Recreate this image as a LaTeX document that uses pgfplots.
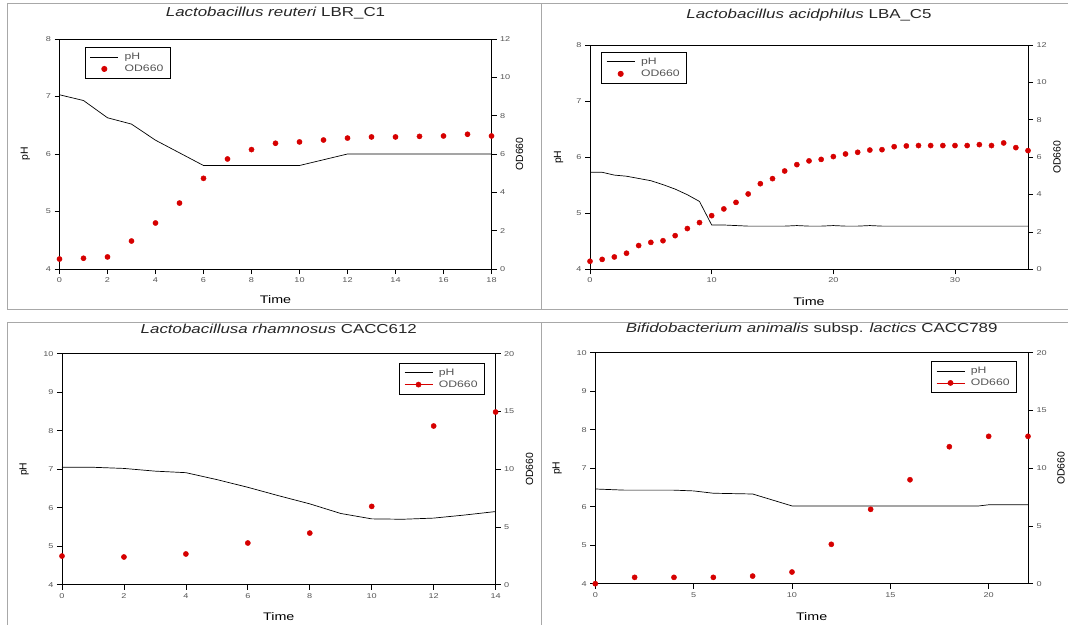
\documentclass[border=0pt]{standalone}
\usepackage{fontspec}
\setmainfont{Liberation Sans}[FakeStretch=1.3]
\newfontfamily\rotfont{Liberation Sans}
\usepackage{pgfplots}
\pgfplotsset{compat=1.18}

\definecolor{odred}{RGB}{214,0,0}
\definecolor{labgray}{RGB}{85,85,85}
\definecolor{framegray}{RGB}{168,168,168}

\pgfplotsset{
  base/.style={
    scale only axis, clip=false, anchor=south west,
    axis line style={black, line width=0.9pt},
    tick style={black, line width=0.7pt},
    major tick length=5pt, tick align=outside,
    ticklabel style={font=\fontsize{7}{8}\selectfont, text=labgray},
    /pgf/number format/assume math mode=true,
    every axis title/.style={at={(axis description cs:0.5,1)}, anchor=center,
      font=\fontsize{13}{15}\selectfont, text=black!85},
    every axis x label/.style={at={(axis description cs:0.5,0)}, anchor=center,
      font=\fontsize{11}{13}\selectfont},
    every axis y label/.style={at={(axis description cs:0,0.5)}, anchor=center,
      rotate=90, font=\rotfont\fontsize{10.4}{12}\selectfont},
  },
  left/.style={base, xtick pos=bottom, ytick pos=left,
    legend style={draw=black, line width=0.8pt, font=\fontsize{9.4}{11}\selectfont,
      text=labgray, inner xsep=5pt, inner ysep=3.5pt, column sep=4pt,
      cells={anchor=west}},
    legend image code/.code={\draw[##1] (0pt,0pt) -- (28pt,0pt);},
  },
  right/.style={base, hide x axis, axis y line*=right},
  odm/.style={only marks, mark=*, mark size=2.6pt, mark options={draw=odred, fill=odred}},
  odml/.style={odred, line width=0.5pt, mark=*, mark size=2.6pt, mark options={fill=odred}},
  odleg/.style={legend image code/.code={\draw[mark repeat=2, mark phase=2, ##1]
    plot coordinates {(0pt,0pt) (14pt,0pt) (28pt,0pt)};}},
  phl/.style={black, line width=0.7pt},
}

\begin{document}
\begin{tikzpicture}
\useasboundingbox (0pt,0pt) rectangle (1068pt,625pt);
% panel frames
\draw[framegray, line width=1pt]
  (7pt,621pt) -- (1068pt,621pt)
  (7pt,316pt) -- (1068pt,316pt)
  (7pt,303pt) -- (1068pt,303pt)
  (7pt,621pt) -- (7pt,316pt)
  (541pt,621pt) -- (541pt,316pt)
  (7pt,303pt) -- (7pt,0pt)
  (541pt,303pt) -- (541pt,0pt);

% ---------- Panel 1: L. reuteri ----------
\begin{axis}[left, at={(59.5pt,356pt)}, width=432pt, height=230pt,
  xmin=0, xmax=18, xtick={0,2,...,18}, ymin=4, ymax=8, ytick={4,...,8},
  title={\textit{Lactobacillus reuteri} LBR\_C1}, title style={yshift=25.7pt},
  xlabel={Time}, xlabel style={yshift=-31pt},
  ylabel={pH}, ylabel style={at={(axis description cs:-0.0787,0.5)}},
  legend style={at={(axis description cs:0.058,0.965)}, anchor=north west}]
\addplot[phl] coordinates {
  (0,7.03) (1,6.93) (2,6.63) (3,6.52) (4,6.24) (5,6.02) (6,5.80) (7,5.80)
  (8,5.80) (9,5.80) (10,5.80) (11,5.90) (12,6.00) (13,6.00) (14,6.00)
  (15,6.00) (16,6.00) (17,6.00) (18,6.00)};
\addlegendentry{pH}
\addlegendimage{odm, odleg}
\addlegendentry{OD660}
\end{axis}
\begin{axis}[right, at={(59.5pt,356pt)}, width=432pt, height=230pt,
  xmin=0, xmax=18, ymin=0, ymax=12, ytick={0,2,...,12},
  ylabel={OD660}, ylabel style={at={(axis description cs:1.0648,0.5)}}]
\addplot[odm] coordinates {
  (0,0.52) (1,0.56) (2,0.63) (3,1.46) (4,2.40) (5,3.44) (6,4.73) (7,5.74)
  (8,6.23) (9,6.56) (10,6.63) (11,6.73) (12,6.83) (13,6.89) (14,6.89)
  (15,6.92) (16,6.94) (17,7.03) (18,6.94)};
\end{axis}

% ---------- Panel 2: L. acidphilus ----------
\begin{axis}[left, at={(590pt,355.7pt)}, width=438pt, height=224.3pt,
  xmin=0, xmax=36, xtick={0,10,20,30}, ymin=4, ymax=8, ytick={4,...,8},
  title={\textit{Lactobacillus acidphilus} LBA\_C5}, title style={yshift=30pt},
  xlabel={Time}, xlabel style={yshift=-32pt},
  ylabel={pH}, ylabel style={at={(axis description cs:-0.0719,0.5)}},
  legend style={at={(axis description cs:0.025,0.969)}, anchor=north west}]
\addplot[phl] coordinates {
  (0,5.73) (1,5.73) (2,5.68) (3,5.66) (4,5.62) (5,5.58) (6,5.51) (7,5.43)
  (8,5.33) (9,5.21) (10,4.79) (11,4.79) (12,4.78) (13,4.77) (14,4.77)
  (15,4.77) (16,4.77) (17,4.78) (18,4.77) (19,4.77) (20,4.78) (21,4.77)
  (22,4.77) (23,4.78) (24,4.77) (25,4.77) (26,4.77) (27,4.77) (28,4.77)
  (29,4.77) (30,4.77) (31,4.77) (32,4.77) (33,4.77) (34,4.77) (35,4.77) (36,4.77)};
\addlegendentry{pH}
\addlegendimage{odm, odleg}
\addlegendentry{OD660}
\end{axis}
\begin{axis}[right, at={(590pt,355.7pt)}, width=438pt, height=224.3pt,
  xmin=0, xmax=36, ymin=0, ymax=12, ytick={0,2,...,12},
  ylabel={OD660}, ylabel style={at={(axis description cs:1.0662,0.5)}}]
\addplot[odm] coordinates {
  (0,0.43) (1,0.53) (2,0.66) (3,0.86) (4,1.27) (5,1.44) (6,1.53) (7,1.80)
  (8,2.18) (9,2.50) (10,2.87) (11,3.23) (12,3.58) (13,4.03) (14,4.58)
  (15,4.85) (16,5.26) (17,5.60) (18,5.80) (19,5.88) (20,6.03) (21,6.17)
  (22,6.26) (23,6.38) (24,6.40) (25,6.56) (26,6.60) (27,6.62) (28,6.62)
  (29,6.62) (30,6.62) (31,6.62) (32,6.67) (33,6.62) (34,6.76) (35,6.51) (36,6.35)};
\end{axis}

% ---------- Panel 3: L. rhamnosus ----------
\begin{axis}[left, at={(62pt,40.3pt)}, width=433.6pt, height=231pt,
  xmin=0, xmax=14, xtick={0,2,...,14}, ymin=4, ymax=10, ytick={4,...,10},
  title={\textit{Lactobacillusa rhamnosus} CACC612}, title style={yshift=24.4pt},
  xlabel={Time}, xlabel style={yshift=-32.3pt},
  ylabel={pH}, ylabel style={at={(axis description cs:-0.0876,0.5)}},
  legend style={at={(axis description cs:0.9755,0.961)}, anchor=north east}]
\addplot[phl] coordinates {
  (0,7.05) (1,7.05) (2,7.02) (3,6.95) (4,6.91) (5,6.73) (6,6.53) (7,6.31)
  (8,6.10) (9,5.85) (10,5.71) (11,5.70) (12,5.73) (13,5.81) (14,5.90)};
\addlegendentry{pH}
\addlegendimage{odml, odleg}
\addlegendentry{OD660}
\end{axis}
\begin{axis}[right, at={(62pt,40.3pt)}, width=433.6pt, height=231pt,
  xmin=0, xmax=14, ymin=0, ymax=20, ytick={0,5,...,20},
  ylabel={OD660}, ylabel style={at={(axis description cs:1.0784,0.5)}}]
\addplot[odm] coordinates {
  (0,2.48) (2,2.40) (4,2.66) (6,3.61) (8,4.47) (10,6.78) (12,13.74) (14,14.95)};
\end{axis}

% ---------- Panel 4: B. animalis ----------
\begin{axis}[left, at={(595.3pt,41.3pt)}, width=432.7pt, height=231pt,
  xmin=0, xmax=22, xtick={0,5,...,20}, ymin=4, ymax=10, ytick={4,...,10},
  title={\textit{Bifidobacterium animalis} subsp. \textit{lactics} CACC789}, title style={yshift=24pt},
  xlabel={Time}, xlabel style={yshift=-33.3pt},
  ylabel={pH}, ylabel style={at={(axis description cs:-0.0885,0.5)}},
  legend style={at={(axis description cs:0.9746,0.964)}, anchor=north east}]
\addplot[phl] coordinates {
  (0,6.46) (1.5,6.43) (4,6.43) (5,6.41) (6,6.35) (8,6.33) (10,6.02) (12,6.02)
  (14,6.02) (16,6.02) (18,6.02) (19.5,6.02) (20,6.05) (22,6.05)};
\addlegendentry{pH}
\addlegendimage{odml, odleg}
\addlegendentry{OD660}
\end{axis}
\begin{axis}[right, at={(595.3pt,41.3pt)}, width=432.7pt, height=231pt,
  xmin=0, xmax=22, ymin=0, ymax=20, ytick={0,5,...,20},
  ylabel={OD660}, ylabel style={at={(axis description cs:1.0763,0.5)}}]
\addplot[odm] coordinates {
  (0,0.0) (2,0.55) (4,0.55) (6,0.55) (8,0.66) (10,1.01) (12,3.41) (14,6.44)
  (16,9.0) (18,11.86) (20,12.76) (22,12.76)};
\end{axis}
\end{tikzpicture}
\end{document}
